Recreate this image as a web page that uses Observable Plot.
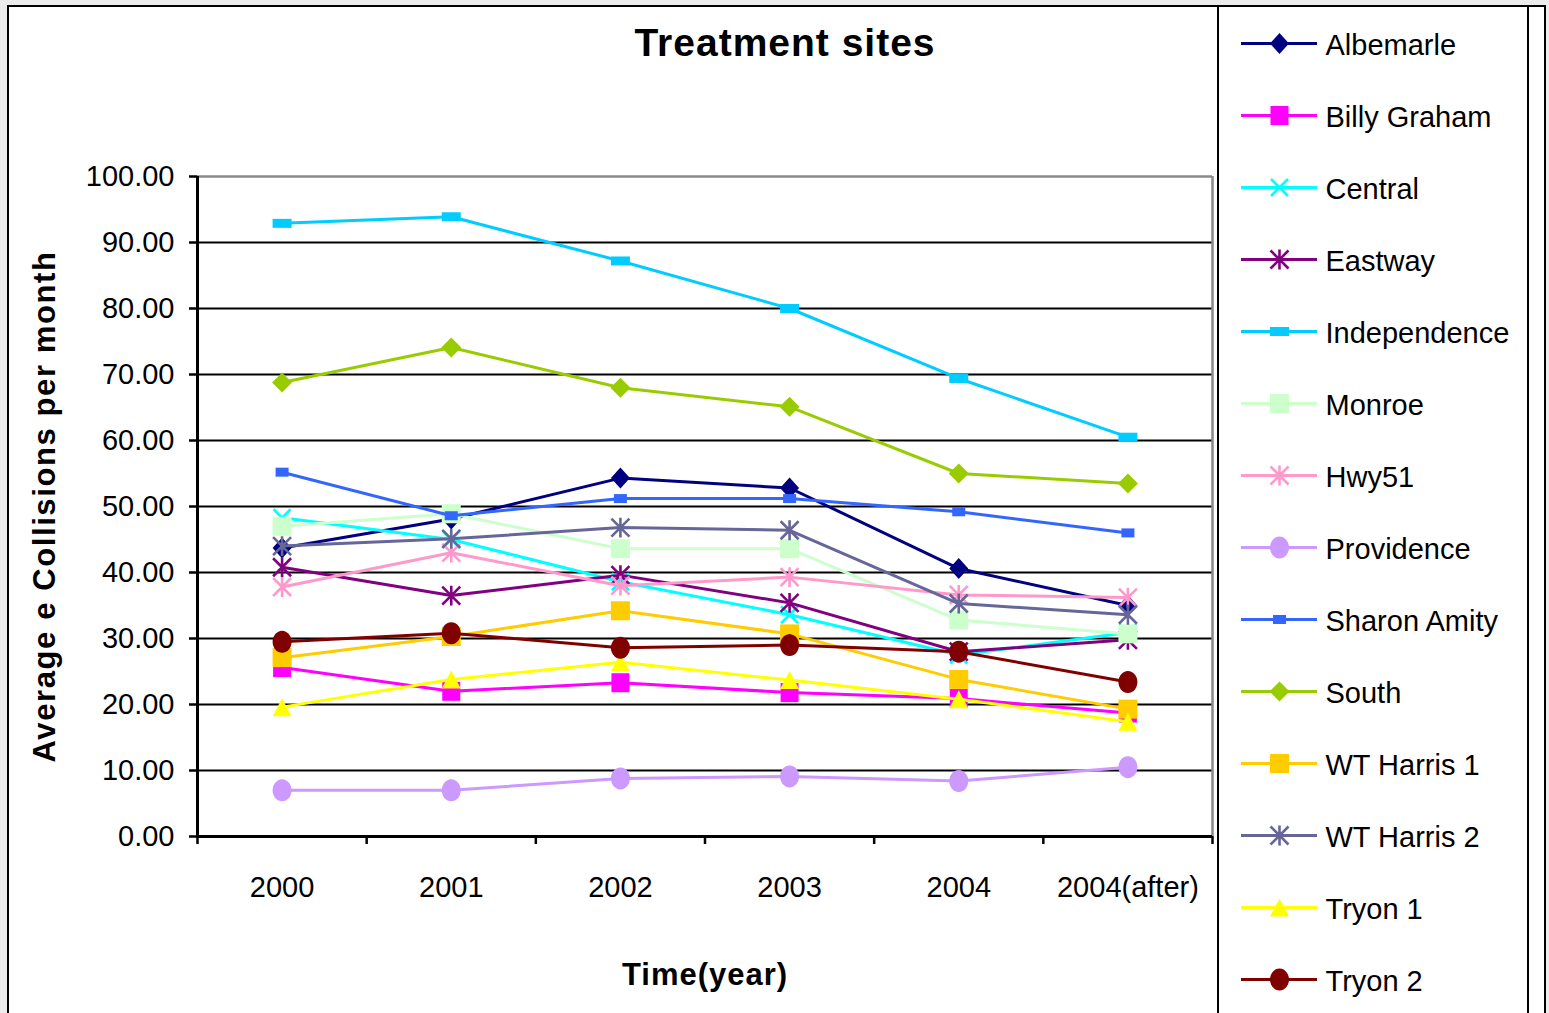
<!DOCTYPE html>
<html>
<head>
<meta charset="utf-8">
<script src="https://cdn.jsdelivr.net/npm/d3@7"></script>
<script src="https://cdn.jsdelivr.net/npm/@observablehq/plot@0.6"></script>
<style>
  html, body { margin: 0; padding: 0; background: #ececec; }
  #wrap { position: relative; width: 1549px; height: 1013px; overflow: hidden; font-family: "Liberation Sans", Arial, sans-serif; }
  #frame { position: absolute; left: 7px; top: 5px; width: 1539px; height: 1100px; border: 2px solid #000; background: #fff; box-sizing: border-box; }
  #legendBox { position: absolute; left: 1217px; top: 5px; width: 312px; height: 1100px; border: 2px solid #000; box-sizing: border-box; }
  #title { position: absolute; top: 23px; left: 0; width: 1570px; text-align: center; font-weight: bold; font-size: 39px; line-height: 1; letter-spacing: 1px; color: #000; }
  #chart { position: absolute; left: 0; top: 0; }
  #legend { position: absolute; left: 1218px; top: 0; }
</style>
</head>
<body>
<div id="wrap">
  <div id="frame"></div>
  <div id="legendBox"></div>
  <div id="title">Treatment sites</div>
  <div id="chart"></div>
  <div id="legend"></div>
</div>
<script>
// ---- data ----
const categories = ["2000", "2001", "2002", "2003", "2004", "2004(after)"];
const seriesNames = ["Albemarle", "Billy Graham", "Central", "Eastway", "Independence", "Monroe", "Hwy51",
  "Providence", "Sharon Amity", "South", "WT Harris 1", "WT Harris 2", "Tryon 1", "Tryon 2"];
const albemarle   = [43.7, 48.1, 54.3, 52.8, 40.6, 35.0];
const billyGraham = [25.6, 22.0, 23.3, 21.8, 20.9, 18.7];
const central     = [48.3, 45.0, 38.6, 33.6, 27.5, 30.9];
const eastway     = [40.8, 36.5, 39.6, 35.4, 28.0, 29.8];
const independence= [92.9, 93.9, 87.2, 80.0, 69.4, 60.5];
const monroe      = [47.0, 48.9, 43.6, 43.6, 32.8, 30.7];
const hwy51       = [37.8, 43.0, 38.0, 39.3, 36.6, 36.2];
const providence  = [7.0, 7.0, 8.8, 9.1, 8.4, 10.5];
const sharonAmity = [55.2, 48.6, 51.2, 51.2, 49.2, 46.0];
const south       = [68.8, 74.1, 68.0, 65.1, 55.0, 53.5];
const wtHarris1   = [27.1, 30.3, 34.2, 30.7, 23.8, 19.3];
const wtHarris2   = [44.0, 45.1, 46.8, 46.4, 35.3, 33.6];
const tryon1      = [19.6, 23.8, 26.4, 23.7, 20.8, 17.4];
const tryon2      = [29.5, 30.8, 28.6, 29.0, 28.0, 23.4];
const yTicks = [0, 10, 20, 30, 40, 50, 60, 70, 80, 90, 100];
const titleText = "Treatment sites";
const yLabel = "Average e Collisions per month";
const xLabel = "Time(year)";

// ---- styles ----
const FONT = "'Liberation Sans', Arial, sans-serif";
const rectSym = (w, h) => ({draw(c) { c.moveTo(-w/2, -h/2); c.lineTo(w/2, -h/2); c.lineTo(w/2, h/2); c.lineTo(-w/2, h/2); c.closePath(); }});
const diamondSym = (w, h) => ({draw(c) { c.moveTo(0, -h/2); c.lineTo(w/2, 0); c.lineTo(0, h/2); c.lineTo(-w/2, 0); c.closePath(); }});
const triSym = (w, h) => ({draw(c) { c.moveTo(0, -h/2); c.lineTo(w/2, h/2); c.lineTo(-w/2, h/2); c.closePath(); }});
const ellipseSym = (rx, ry) => ({draw(c) { const n = 28; for (let k = 0; k <= n; k++) { const a = 2*Math.PI*k/n; const px = rx*Math.cos(a), py = ry*Math.sin(a); k ? c.lineTo(px, py) : c.moveTo(px, py); } c.closePath(); }});
const timesSym = (r) => ({draw(c) { c.moveTo(-r, -r); c.lineTo(r, r); c.moveTo(-r, r); c.lineTo(r, -r); }});
const asteriskSym = (r) => ({draw(c) { c.moveTo(0, -r*1.1); c.lineTo(0, r*1.1); c.moveTo(-r, -r); c.lineTo(r, r); c.moveTo(-r, r); c.lineTo(r, -r); }});

const styles = [
  {color: "#000080", symbol: diamondSym(19, 21), filled: true},
  {color: "#FF00FF", symbol: rectSym(18, 19), filled: true},
  {color: "#00FFFF", symbol: timesSym(8.5), filled: false},
  {color: "#800080", symbol: asteriskSym(9), filled: false},
  {color: "#00CCFF", symbol: rectSym(19, 9), filled: true},
  {color: "#CCFFCC", symbol: rectSym(19, 19), filled: true},
  {color: "#FF99CC", symbol: asteriskSym(9), filled: false},
  {color: "#CC99FF", symbol: ellipseSym(9.5, 11), filled: true},
  {color: "#3366FF", symbol: rectSym(13, 9), filled: true},
  {color: "#99CC00", symbol: diamondSym(20, 20), filled: true},
  {color: "#FFCC00", symbol: rectSym(19, 19), filled: true},
  {color: "#666699", symbol: asteriskSym(9), filled: false},
  {color: "#FFFF00", symbol: triSym(19, 18), filled: true},
  {color: "#800000", symbol: ellipseSym(9.5, 11), filled: true}
];
const values = [albemarle, billyGraham, central, eastway, independence, monroe, hwy51,
  providence, sharonAmity, south, wtHarris1, wtHarris2, tryon1, tryon2];

// tidy table built from the arrays
const series = seriesNames.map((name, s) => ({
  name, ...styles[s],
  points: values[s].map((v, i) => ({i, v, name}))
}));
const idx = categories.map((_, i) => i);
const boundaries = d3.range(categories.length + 1).map(i => i - 0.5);

const dotOpts = (s) => s.filled
  ? {symbol: s.symbol, fill: s.color, stroke: "none", r: 8}
  : {symbol: s.symbol, fill: "none", stroke: s.color, strokeWidth: 2.6, r: 8};

const chart = Plot.plot({
  width: 1218, height: 1013,
  marginLeft: 197, marginRight: 6, marginTop: 176, marginBottom: 177,
  x: {type: "linear", domain: [-0.5, categories.length - 0.5]},
  y: {domain: [0, 100]},
  style: {fontFamily: FONT, fontSize: "29px", color: "#000", background: "none", maxWidth: "none", overflow: "visible"},
  marks: [
    Plot.gridY(yTicks.filter(t => t > 0 && t < 100), {stroke: "#000", strokeOpacity: 1, strokeWidth: 2}),
    Plot.ruleY([100], {stroke: "#8a8a8a", strokeWidth: 2.5}),
    Plot.ruleX([categories.length - 0.5], {stroke: "#8a8a8a", strokeWidth: 2.5}),
    ...series.flatMap(s => [
      Plot.line(s.points, {x: "i", y: "v", stroke: s.color, strokeWidth: 3}),
      Plot.dot(s.points, {x: "i", y: "v", ...dotOpts(s)})
    ]),
    Plot.ruleX([-0.5], {stroke: "#000", strokeWidth: 3}),
    Plot.ruleY([0], {stroke: "#000", strokeWidth: 3}),
    Plot.axisY(yTicks, {tickSize: 8, tickPadding: 15, tickFormat: d => d.toFixed(2), strokeWidth: 2.5, fontSize: 29, label: null}),
    Plot.axisX(boundaries, {tickSize: 8, tickFormat: () => "", strokeWidth: 2.5, label: null}),
    Plot.axisX(idx, {tickSize: 0, tickPadding: 40, tickFormat: i => categories[i], fontSize: 29, label: null}),
    Plot.text([yLabel], {text: d => d, frameAnchor: "left", rotate: -90, dx: -152, textAnchor: "middle", lineAnchor: "middle", fontWeight: "bold", fontSize: 31}),
    Plot.text([xLabel], {text: d => d, frameAnchor: "bottom", dy: 139, textAnchor: "middle", lineAnchor: "middle", fontWeight: "bold", fontSize: 31})
  ]
});
// slightly looser letter spacing on the bold axis titles, as in the original
chart.querySelectorAll("text").forEach(t => {
  if (t.textContent === yLabel) t.style.letterSpacing = "1.6px";
  if (t.textContent === xLabel) t.style.letterSpacing = "1px";
});
document.getElementById("chart").append(chart);

const legend = Plot.plot({
  width: 309, height: 1013,
  marginLeft: 23, marginRight: 210, marginTop: 41, marginBottom: 32,
  x: {domain: [0, 1], axis: null},
  y: {type: "point", domain: seriesNames, padding: 0, axis: null},
  style: {fontFamily: FONT, fontSize: "29px", color: "#000", background: "none", maxWidth: "none", overflow: "visible"},
  marks: series.flatMap(s => [
    Plot.ruleY([s.name], {x1: 0, x2: 1, stroke: s.color, strokeWidth: 3}),
    Plot.dot([s.name], {x: 0.5, y: d => d, ...dotOpts(s)}),
    Plot.text([s.name], {x: 1, y: d => d, text: d => d, textAnchor: "start", dx: 8, dy: 2, fontSize: 29})
  ])
});
document.getElementById("legend").append(legend);
</script>
</body>
</html>
